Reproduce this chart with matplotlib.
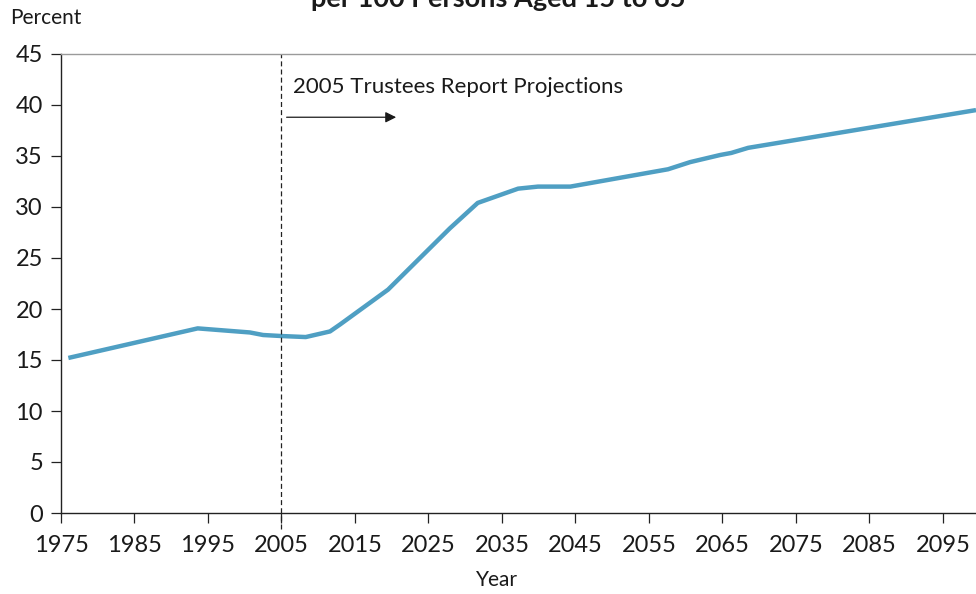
import matplotlib
matplotlib.use('Agg')
import matplotlib.pyplot as plt

# values
years = [1976, 1993.6, 2000.7, 2002.5, 2005, 2008.3, 2011.6, 2013, 2019.5,
         2027.9, 2031.7, 2037.2, 2039.9, 2044.3, 2057.6, 2060.6, 2064.7,
         2066.2, 2068.5, 2099.5]
percent = [15.2, 18.1, 17.7, 17.45, 17.35, 17.25, 17.8, 18.5, 21.9,
           27.9, 30.4, 31.8, 32.0, 32.0, 33.7, 34.4, 35.1,
           35.3, 35.8, 39.5]
xticks = list(range(1975, 2100, 10))
yticks = list(range(0, 50, 5))
title = 'per 100 Persons Aged 15 to 65'
note = '2005 Trustees Report Projections'
split_year = 2005

plt.rcParams['font.family'] = ['Lato', 'DejaVu Sans']

fig = plt.figure(figsize=(9.76, 5.94), dpi=100)
ax = fig.add_axes([61/976, 81/594, (976-61)/976, (513-54)/594])

ax.plot(years, percent, color='#4f9fc3', lw=3.2, solid_capstyle='butt', clip_on=False)

# projection divider and arrow
ax.plot([split_year, split_year], [-1.6, 45], ls=(0, (4, 2.5)), color='#222222', lw=0.9,
        clip_on=False)
ax.text(2006.6, 41.8, note, fontsize=16, va='center', ha='left', color='#1a1a1a')
ax.annotate('', xy=(2020.6, 38.8), xytext=(2005.7, 38.8),
            arrowprops=dict(arrowstyle='-|>', color='#1a1a1a', lw=0.9,
                            mutation_scale=16, shrinkA=0, shrinkB=0))

ax.set_xlim(1975, 2099.5)
ax.set_ylim(0, 45)
ax.set_xticks(xticks)
ax.set_yticks(yticks)
ax.tick_params(labelsize=17, length=7, width=0.9, color='#222222', pad=9,
               labelcolor='#1a1a1a')
ax.tick_params(axis='y', pad=6)

for s in ['left', 'bottom']:
    ax.spines[s].set_color('#222222')
    ax.spines[s].set_linewidth(1.0)
ax.spines['top'].set_color('#9a9a9a')
ax.spines['top'].set_linewidth(1.0)
ax.spines['right'].set_visible(False)

fig.text(497/976, 1 - 580/594, 'Year', fontsize=15, va='center', ha='center', color='#1a1a1a')
fig.text(10/976, 1 - 18/594, 'Percent', fontsize=15, va='center', ha='left', color='#1a1a1a')
# title is cut by the top edge, as in the source image
fig.text(498/976, 1 - 7/594, title, fontsize=19.5, fontweight='bold', va='baseline',
         ha='center', color='#1a1a1a')

fig.savefig('out.png', dpi=100)
